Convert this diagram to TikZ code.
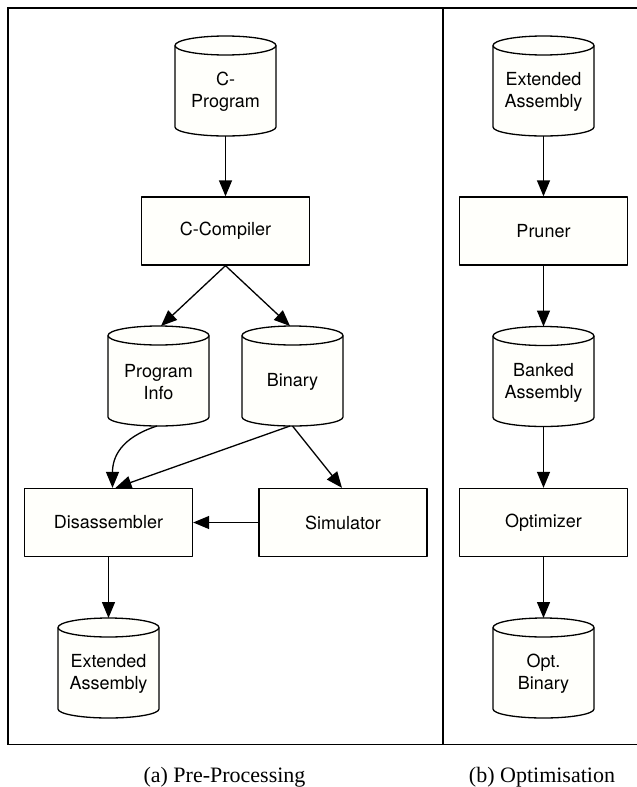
\documentclass[tikz,border=0pt]{standalone}
\usepackage{fontspec}
\setmainfont{Liberation Serif}
\newfontfamily\diagfont{TeX Gyre Heros}
\usetikzlibrary{arrows.meta,calc}
\definecolor{shapefill}{RGB}{255,255,251}
\tikzset{
  frameline/.style={line width=1.6pt,black},
  shapeline/.style={line width=1.3pt,black,fill=shapefill,line join=round},
  boxnode/.style={draw,shapeline,minimum width=168pt,minimum height=68pt,inner sep=0pt,
    font=\diagfont\fontsize{18}{22}\selectfont,align=center},
  cyltext/.style={inner sep=0pt,font=\diagfont\fontsize{18}{22}\selectfont,align=center},
  arr/.style={line width=1.3pt,-{Triangle[length=16pt,width=13pt]}},
  captext/.style={font=\fontsize{22}{26}\selectfont,anchor=base,inner sep=0pt}
}
% name, x, top y (image pixels, downward), text
\newcommand\cylnode[4]{%
  \coordinate (#1-n) at (#2,{-#3});
  \coordinate (#1-s) at (#2,{-#3-100});
  \filldraw[shapeline] (#2-50.5,{-#3-9.5}) -- (#2-50.5,{-#3-91})
     arc[start angle=180,end angle=360,x radius=50.5pt,y radius=9pt]
     -- (#2+50.5,{-#3-9.5})
     arc[start angle=0,end angle=180,x radius=50.5pt,y radius=9.5pt] -- cycle;
  \draw[shapeline,fill=none] (#2-50.5,{-#3-9.5})
     arc[start angle=180,end angle=360,x radius=50.5pt,y radius=9.5pt];
  \node[cyltext] (#1) at (#2,{-#3-56}) {#4};
}
\begin{document}
\begin{tikzpicture}[x=1pt,y=1pt]
\useasboundingbox (0,0) rectangle (637,-787);
% frame
\draw[frameline] (637,-8) -- (8,-8) -- (8,-744.5) -- (637,-744.5);
\draw[frameline] (443,-8) -- (443,-744.5);

% (a) Pre-Processing
\cylnode{cprog}{225.5}{36}{C-\\Program}
\node[boxnode] (ccomp) at (225.5,-231) {C-Compiler};
\cylnode{pinfo}{158.5}{326}{Program\\Info}
\cylnode{binary}{292.5}{326}{Binary}
\node[boxnode] (disasm) at (108.5,-522.5) {Disassembler};
\node[boxnode] (sim) at (343,-522.5) {Simulator};
\cylnode{extl}{108.5}{618}{Extended\\Assembly}

\draw[arr] (cprog-s) -- (ccomp.north);
\draw[arr] (ccomp.south) -- ([xshift=2.5pt]pinfo-n);
\draw[arr] (ccomp.south) -- ([xshift=-2.5pt]binary-n);
\draw[arr] ([xshift=-1.5pt]pinfo-s) .. controls +(-37,-12) and +(0,30) .. ([xshift=4pt]disasm.north);
\draw[arr] ([xshift=-2.5pt]binary-s) -- ([xshift=7pt]disasm.north);
\draw[arr] (binary-s) -- ([xshift=-1pt]sim.north);
\draw[arr] (sim.west) -- (disasm.east);
\draw[arr] (disasm.south) -- (extl-n);

% (b) Optimisation
\cylnode{exta}{543.5}{36}{Extended\\Assembly}
\node[boxnode] (pruner) at (543.5,-231) {Pruner};
\cylnode{banked}{543.5}{326.5}{Banked\\Assembly}
\node[boxnode] (optim) at (543.5,-522.5) {Optimizer};
\cylnode{optbin}{543.5}{618}{Opt.\\Binary}

\draw[arr] (exta-s) -- (pruner.north);
\draw[arr] (pruner.south) -- (banked-n);
\draw[arr] (banked-s) -- (optim.north);
\draw[arr] (optim.south) -- (optbin-n);

% captions
\node[captext] (capa) at (224.5,-782) {(a) Pre-Processing};
\node[captext] (capb) at (542,-782) {(b) Optimisation};
\end{tikzpicture}
\end{document}
